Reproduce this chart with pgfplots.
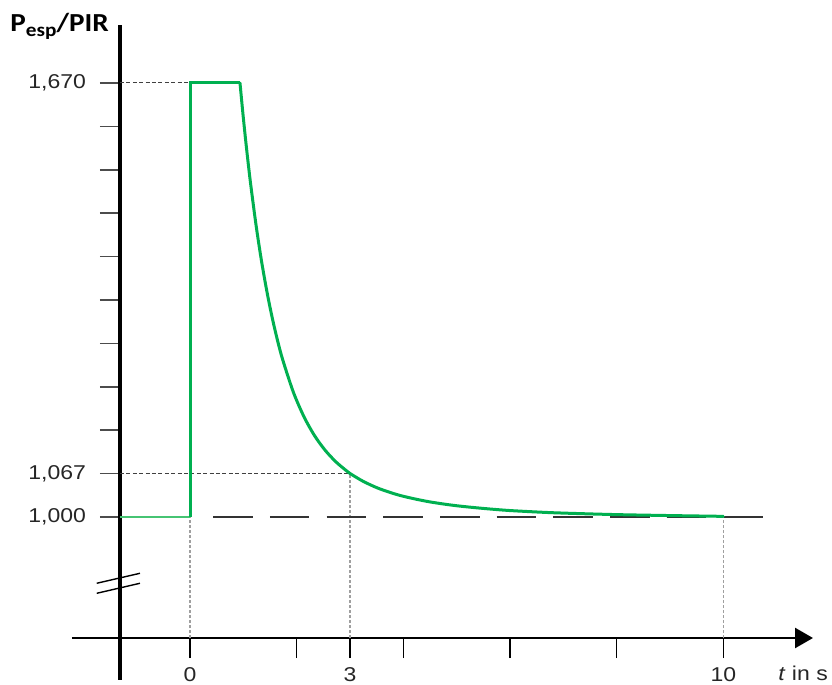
\documentclass[border=0pt]{standalone}
\usepackage{fontspec}
\setmainfont{Liberation Sans}
\newfontfamily\calib{Carlito}
\usepackage{pgfplots}
\pgfplotsset{compat=1.18}
\usetikzlibrary{arrows.meta}
\definecolor{pgreen}{RGB}{0,176,80}
\definecolor{lgreen}{RGB}{70,196,115}
\newcommand\lab[1]{\scalebox{1.15}[1]{#1}}
\begin{document}
\begin{tikzpicture}
\begin{axis}[
  scale only axis, width=346.5pt, height=306.5pt,
  xmin=-1.3125, xmax=11.681, ymin=0.81321, ymax=1.7595,
  axis lines=left, clip=false,
  x axis line style={line width=1.25pt, -{Triangle[length=9pt,width=10pt]}},
  y axis line style={line width=1.6pt, -},
  tick align=outside, major tick length=10pt,
  xtick={0,2,3,4,6,8,10},
  xticklabels={\lab{0},,\lab{3},,,,\lab{10}},
  ytick={1,1.067,1.134,1.201,1.268,1.335,1.402,1.469,1.536,1.603,1.670},
  yticklabels={\lab{1,000},\lab{1,067},,,,,,,,,\lab{1,670}},
  x tick style={line width=0.8pt, black},
  y tick style={line width=0.8pt, black!70},
  every tick label/.append style={font=\fontsize{10}{12}\selectfont, text=black!85},
  yticklabel style={anchor=east, xshift=-3.5pt},
  xticklabel style={anchor=north, yshift=-1.2pt},
]
% reference guides
\addplot[black!75, line width=0.5pt, dash pattern=on 2pt off 1.2pt] coordinates {(-1.3125,1.670) (0,1.670)};
\addplot[black!75, line width=0.5pt, dash pattern=on 2pt off 1.2pt] coordinates {(-1.3125,1.067) (3,1.067)};
\addplot[gray!75, line width=0.6pt, dash pattern=on 1.5pt off 1pt] coordinates {(0,0.81321) (0,1)};
\addplot[gray!75, line width=0.6pt, dash pattern=on 1.5pt off 1pt] coordinates {(3,0.81321) (3,1.067)};
\addplot[gray!75, line width=0.6pt, dash pattern=on 1.5pt off 1pt] coordinates {(10,0.81321) (10,1)};
\addplot[black!80, line width=0.75pt, dash pattern=on 19.75pt off 8.6pt, dash phase=19.75pt] coordinates {(0.1125,1) (10.74,1)};
% power curve
\addplot[lgreen, line width=1.3pt] coordinates {(-1.3125,1) (0,1)};
\addplot[pgreen, line width=1.5pt, line join=miter] coordinates {(0,1) (0,1.670) (0.9375,1.670)};
\addplot[pgreen, line width=1.5pt, smooth, line cap=round] coordinates {
 (0.9375,1.6700) (0.9875,1.6266) (1.0375,1.5862) (1.0875,1.5487) (1.1375,1.5137)
 (1.2375,1.4511) (1.3375,1.3968) (1.4375,1.3500) (1.5375,1.3091) (1.6375,1.2737)
 (1.7375,1.2430) (1.9375,1.1928) (2.1375,1.1547) (2.3375,1.1253) (2.5375,1.1027)
 (2.7375,1.0850) (2.9375,1.0711) (3.0,1.0672) (3.2375,1.0555) (3.5375,1.0441)
 (3.9375,1.0333) (4.4375,1.0242) (4.9375,1.0180) (5.4375,1.0137) (5.9375,1.0103)
 (6.4375,1.0080) (6.9375,1.0062) (7.9375,1.0038) (8.9375,1.0023) (10,1.0010)};
% axis extensions and break
\draw[line width=1.25pt] (axis cs:-2.2125,0.81321) -- (axis cs:-1.3125,0.81321);
\draw[line width=1.6pt] (axis cs:-1.3125,0.81321) -- (axis cs:-1.3125,0.7484);
\draw[line width=0.7pt] (axis cs:-1.749,0.8977) -- (axis cs:-0.9375,0.9131);
\draw[line width=0.7pt] (axis cs:-1.749,0.8822) -- (axis cs:-0.9375,0.8977);
% labels
\node[anchor=base west, inner sep=0pt] at (axis cs:-3.375,1.7487)
  {\scalebox{1.12}[1]{\calib\bfseries\fontsize{13}{15}\selectfont P\raisebox{-0.35ex}{\fontsize{9.5}{10}\selectfont esp}/PIR}};
\node[anchor=base west, inner sep=0pt] at (axis cs:11.025,0.7470)
  {\lab{\fontsize{10}{12}\selectfont\color{black!85}\textit{t} in s}};
\coordinate (bl) at (axis cs:-3.5625,0.7407);
\coordinate (tr) at (axis cs:12.0375,1.7981);
\end{axis}
\pgfresetboundingbox
\useasboundingbox (bl) rectangle (tr);
\end{tikzpicture}
\end{document}
